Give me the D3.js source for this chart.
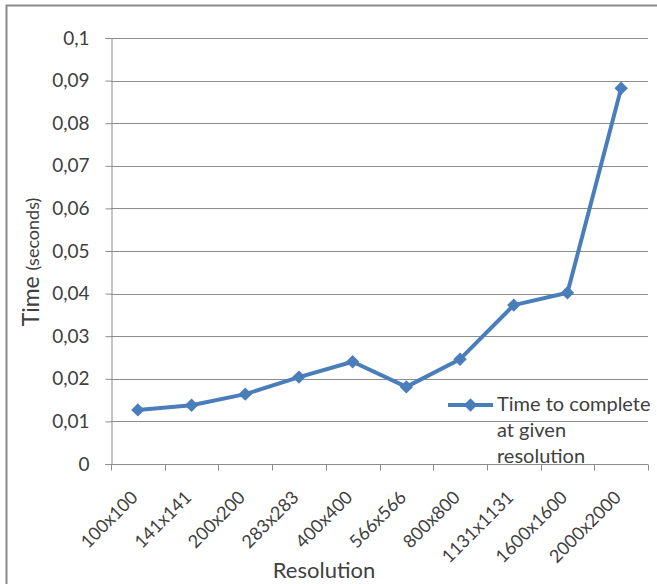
<!DOCTYPE html>
<html>
<head>
<meta charset="utf-8">
<script src="https://cdn.jsdelivr.net/npm/d3@7"></script>
<style>
  html, body { margin: 0; padding: 0; background: #fff; }
  svg { display: block; font-family: Lato, "Open Sans", sans-serif; }
</style>
</head>
<body>
<svg id="chart" width="657" height="584"></svg>
<script>
// Resolutions tested and time taken at each (seconds)
const resolutions = ["100x100", "141x141", "200x200", "283x283", "400x400",
                     "566x566", "800x800", "1131x1131", "1600x1600", "2000x2000"];
const times = [0.0127, 0.0138, 0.0164, 0.0204, 0.0240,
               0.0181, 0.0246, 0.0373, 0.0402, 0.0882];
const yTicks = [0, 0.01, 0.02, 0.03, 0.04, 0.05, 0.06, 0.07, 0.08, 0.09, 0.1];
const seriesName = ["Time to complete", "at given", "resolution"];

const svg = d3.select("#chart");
const plot = { left: 111, right: 648, top: 38, bottom: 464 };
const lineColor = "#4a7ebb";
const textColor = "#404040";
const gridColor = "#8c8c8c";

// Outer chart frame
svg.append("rect")
  .attr("x", 6.5).attr("y", 5.5)
  .attr("width", 660).attr("height", 600)
  .attr("fill", "#fff").attr("stroke", "#8a8a8a").attr("stroke-width", 2);

const x = d3.scaleBand().domain(resolutions).range([plot.left, plot.right]);
const y = d3.scaleLinear().domain([0, 0.1]).range([plot.bottom, plot.top]);

// Horizontal gridlines
svg.append("g")
  .selectAll("line")
  .data(yTicks.filter(d => d > 0))
  .join("line")
  .attr("x1", plot.left).attr("x2", plot.right)
  .attr("y1", d => Math.round(y(d)) + 0.5).attr("y2", d => Math.round(y(d)) + 0.5)
  .attr("stroke", gridColor).attr("stroke-width", 1);

// Y axis
const fmt = d => d === 0 ? "0" : String(+d.toFixed(2)).replace(".", ",");
const yAxis = svg.append("g")
  .attr("transform", `translate(${plot.left + 0.5},0)`)
  .call(d3.axisLeft(y).tickValues(yTicks).tickFormat(fmt).tickSize(6).tickPadding(16));
yAxis.select(".domain").attr("stroke", gridColor);
yAxis.selectAll(".tick line").attr("stroke", gridColor);
yAxis.selectAll(".tick text")
  .attr("font-size", 19).attr("fill", textColor)
  .attr("font-family", "Lato, 'Open Sans', sans-serif");

// X axis with ticks at band boundaries
const xAxis = svg.append("g")
  .attr("transform", `translate(0,${plot.bottom + 0.5})`);
xAxis.append("line")
  .attr("x1", plot.left).attr("x2", plot.right)
  .attr("stroke", gridColor);
const bounds = resolutions.map(r => x(r)).concat([plot.right]);
xAxis.selectAll("line.tk")
  .data(bounds)
  .join("line").attr("class", "tk")
  .attr("x1", d => Math.round(d) + 0.5).attr("x2", d => Math.round(d) + 0.5)
  .attr("y1", 0).attr("y2", 6)
  .attr("stroke", gridColor);
xAxis.selectAll("text")
  .data(resolutions)
  .join("text")
  .attr("transform", d => `translate(${x(d) + x.bandwidth() / 2 + 1},${34}) rotate(-45)`)
  .attr("text-anchor", "end")
  .attr("font-size", 18).attr("fill", textColor)
  .text(d => d);

// Axis titles
svg.append("text")
  .attr("x", 324).attr("y", 578)
  .attr("text-anchor", "middle")
  .attr("font-size", 22).attr("fill", textColor)
  .text("Resolution");

const yt = svg.append("text")
  .attr("transform", "translate(39,262) rotate(-90)")
  .attr("text-anchor", "middle")
  .attr("fill", textColor);
yt.append("tspan").attr("font-size", 23).text("Time ");
yt.append("tspan").attr("font-size", 18).text("(seconds)");

// Series line and diamond markers
const cx = d => x(d) + x.bandwidth() / 2;
const line = d3.line().x((d, i) => cx(resolutions[i])).y(d => y(d));
svg.append("path")
  .datum(times)
  .attr("d", line)
  .attr("fill", "none").attr("stroke", lineColor)
  .attr("stroke-width", 4).attr("stroke-linejoin", "round");

const marker = d3.symbol().type(d3.symbolSquare).size(90);
svg.append("g")
  .selectAll("path")
  .data(times)
  .join("path")
  .attr("transform", (d, i) => `translate(${cx(resolutions[i])},${y(d)}) rotate(45)`)
  .attr("d", marker)
  .attr("fill", lineColor);

// Legend
const lg = svg.append("g").attr("transform", "translate(448,405)");
lg.append("line").attr("x1", 0).attr("x2", 45).attr("y1", 0).attr("y2", 0)
  .attr("stroke", lineColor).attr("stroke-width", 4);
lg.append("path").attr("transform", "translate(22.5,0) rotate(45)")
  .attr("d", marker)
  .attr("fill", lineColor);
lg.selectAll("text")
  .data(seriesName)
  .join("text")
  .attr("x", 49).attr("y", (d, i) => 6 + i * 26)
  .attr("font-size", 20).attr("fill", textColor)
  .text(d => d);
</script>
</body>
</html>
